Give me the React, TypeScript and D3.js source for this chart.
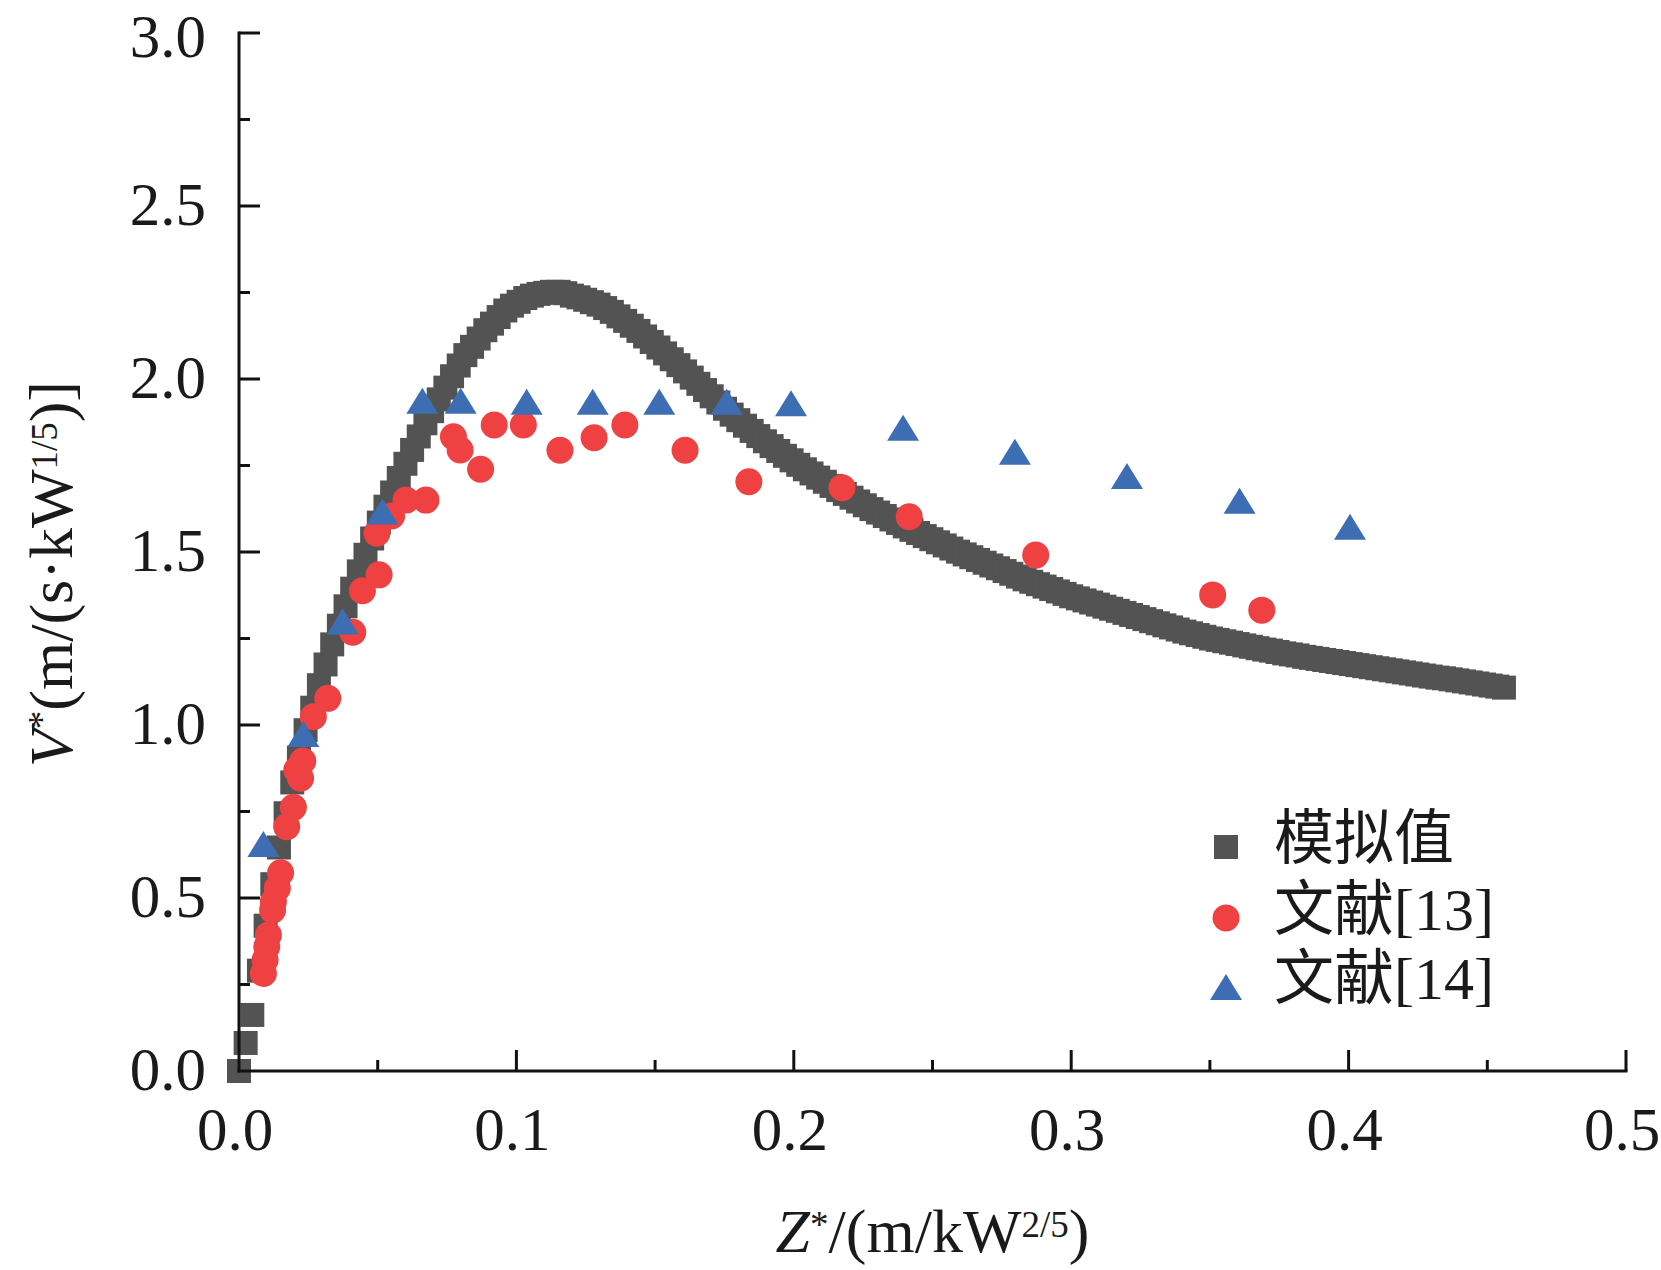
import React, { useRef, useEffect } from 'react';
import * as d3 from 'd3';

// 模拟值 (simulation)
const simZ = [
  0, 0.0024, 0.0048, 0.0072, 0.0096, 0.012, 0.0144, 0.0168, 0.0192, 0.0216,
  0.024, 0.0264, 0.0288, 0.0312, 0.0336, 0.036, 0.0384, 0.0408, 0.0432, 0.0456,
  0.048, 0.0504, 0.0528, 0.0552, 0.0576, 0.06, 0.0624, 0.0648, 0.0672, 0.0696,
  0.072, 0.0744, 0.0768, 0.0792, 0.0816, 0.084, 0.0864, 0.0888, 0.0912, 0.0936,
  0.096, 0.0984, 0.1008, 0.1032, 0.1056, 0.108, 0.1104, 0.1128, 0.1152, 0.1176,
  0.12, 0.1224, 0.1248, 0.1272, 0.1296, 0.132, 0.1344, 0.1368, 0.1392, 0.1416,
  0.144, 0.1464, 0.1488, 0.1512, 0.1536, 0.156, 0.1584, 0.1608, 0.1632, 0.1656,
  0.168, 0.1704, 0.1728, 0.1752, 0.1776, 0.18, 0.1824, 0.1848, 0.1872, 0.1896,
  0.192, 0.1944, 0.1968, 0.1992, 0.2016, 0.204, 0.2064, 0.2088, 0.2112, 0.2136,
  0.216, 0.2184, 0.2208, 0.2232, 0.2256, 0.228, 0.2304, 0.2328, 0.2352, 0.2376,
  0.24, 0.2424, 0.2448, 0.2472, 0.2496, 0.252, 0.2544, 0.2568, 0.2592, 0.2616,
  0.264, 0.2664, 0.2688, 0.2712, 0.2736, 0.276, 0.2784, 0.2808, 0.2832, 0.2856,
  0.288, 0.2904, 0.2928, 0.2952, 0.2976, 0.3, 0.3024, 0.3048, 0.3072, 0.3096,
  0.312, 0.3144, 0.3168, 0.3192, 0.3216, 0.324, 0.3264, 0.3288, 0.3312, 0.3336,
  0.336, 0.3384, 0.3408, 0.3432, 0.3456, 0.348, 0.3504, 0.3528, 0.3552, 0.3576,
  0.36, 0.3624, 0.3648, 0.3672, 0.3696, 0.372, 0.3744, 0.3768, 0.3792, 0.3816,
  0.384, 0.3864, 0.3888, 0.3912, 0.3936, 0.396, 0.3984, 0.4008, 0.4032, 0.4056,
  0.408, 0.4104, 0.4128, 0.4152, 0.4176, 0.42, 0.4224, 0.4248, 0.4272, 0.4296,
  0.432, 0.4344, 0.4368, 0.4392, 0.4416, 0.444, 0.4464, 0.4488, 0.4512, 0.4536,
  0.456,
];
const simV = [
  0, 0.081, 0.162, 0.29, 0.42, 0.54, 0.646, 0.745, 0.834, 0.906,
  0.985, 1.05, 1.115, 1.175, 1.233, 1.287, 1.343, 1.394, 1.444, 1.492,
  1.539, 1.585, 1.631, 1.672, 1.714, 1.755, 1.795, 1.834, 1.872, 1.907,
  1.941, 1.975, 2.008, 2.039, 2.069, 2.093, 2.117, 2.141, 2.16, 2.179,
  2.198, 2.212, 2.223, 2.234, 2.241, 2.246, 2.249, 2.252, 2.252, 2.248,
  2.241, 2.236, 2.229, 2.222, 2.215, 2.205, 2.194, 2.181, 2.168, 2.154,
  2.139, 2.123, 2.107, 2.091, 2.074, 2.057, 2.04, 2.022, 2.004, 1.986,
  1.968, 1.95, 1.932, 1.914, 1.897, 1.881, 1.865, 1.85, 1.835, 1.82,
  1.806, 1.792, 1.778, 1.765, 1.752, 1.739, 1.727, 1.715, 1.703, 1.691,
  1.679, 1.668, 1.657, 1.646, 1.635, 1.624, 1.614, 1.604, 1.594, 1.584,
  1.574, 1.564, 1.555, 1.546, 1.537, 1.528, 1.519, 1.51, 1.501, 1.493,
  1.485, 1.477, 1.469, 1.461, 1.453, 1.445, 1.437, 1.429, 1.421, 1.414,
  1.407, 1.4, 1.393, 1.386, 1.379, 1.372, 1.366, 1.36, 1.354, 1.348,
  1.342, 1.336, 1.33, 1.324, 1.318, 1.312, 1.306, 1.3, 1.294, 1.288,
  1.282, 1.276, 1.27, 1.265, 1.26, 1.255, 1.25, 1.246, 1.242, 1.238,
  1.234, 1.23, 1.226, 1.222, 1.218, 1.215, 1.211, 1.207, 1.204, 1.201,
  1.197, 1.194, 1.191, 1.188, 1.185, 1.182, 1.179, 1.176, 1.173, 1.17,
  1.167, 1.164, 1.161, 1.158, 1.155, 1.152, 1.149, 1.146, 1.143, 1.14,
  1.137, 1.135, 1.132, 1.129, 1.126, 1.123, 1.12, 1.117, 1.114, 1.111,
  1.108,
];

// 文献[13]
const lit13Z = [
  0.0088, 0.0094, 0.01, 0.0106, 0.0121, 0.0124, 0.0138, 0.015, 0.0172, 0.0196,
  0.0208, 0.0222, 0.023, 0.0268, 0.032, 0.041, 0.0445, 0.0505, 0.0497, 0.055,
  0.0602, 0.0674, 0.0773, 0.0797, 0.0871, 0.092, 0.1025, 0.1157, 0.128, 0.1391,
  0.1608, 0.1838, 0.2174, 0.2416, 0.2872, 0.351, 0.3687,
];
const lit13V = [
  0.282, 0.321, 0.359, 0.393, 0.465, 0.489, 0.528, 0.573, 0.706, 0.762,
  0.87, 0.846, 0.896, 1.024, 1.077, 1.268, 1.388, 1.434, 1.554, 1.604,
  1.65, 1.65, 1.833, 1.795, 1.739, 1.867, 1.867, 1.794, 1.83, 1.867,
  1.794, 1.703, 1.686, 1.602, 1.491, 1.376, 1.332,
];

// 文献[14]
const lit14Z = [
  0.0088, 0.0232, 0.0374, 0.0517, 0.0661, 0.0799, 0.1037, 0.1275, 0.1515, 0.1758,
  0.199, 0.2394, 0.2797, 0.3201, 0.3607, 0.4005,
];
const lit14V = [
  0.656, 0.974, 1.299, 1.617, 1.937, 1.937, 1.934, 1.934, 1.934, 1.934,
  1.93, 1.859, 1.79, 1.72, 1.648, 1.573,
];

const xMajor = [0, 0.1, 0.2, 0.3, 0.4, 0.5];
const xMinor = [0.05, 0.15, 0.25, 0.35, 0.45];
const yMajor = [0, 0.5, 1.0, 1.5, 2.0, 2.5, 3.0];
const yMinor = [0.25, 0.75, 1.25, 1.75, 2.25, 2.75];
const legendLabels = ['模拟值', '文献[13]', '文献[14]'];

const GREY = '#535353';
const RED = '#EF4142';
const BLUE = '#3D6EB4';
const FONT = "'Liberation Serif', 'Times New Roman', 'Noto Sans CJK SC', serif";

export default function App() {
  const svgRef = useRef<SVGSVGElement | null>(null);

  useEffect(() => {
    if (!svgRef.current) return;
    const width = 1661;
    const height = 1270;
    const left = 239, right = 1626, top = 33, bottom = 1071;

    const x = d3.scaleLinear().domain([0, 0.5]).range([left, right]);
    const y = d3.scaleLinear().domain([0, 3]).range([bottom, top]);

    const svg = d3.select(svgRef.current)
      .attr('width', width)
      .attr('height', height)
      .style('position', 'absolute')
      .style('left', '0px')
      .style('top', '0px')
      .style('background', '#ffffff');

    const g = svg.append('g');

    // simulation squares
    const sq = 24;
    g.selectAll('rect.sim')
      .data(d3.zip(simZ, simV))
      .join('rect')
      .attr('class', 'sim')
      .attr('x', d => x(d[0]) - sq / 2)
      .attr('y', d => y(d[1]) - sq / 2)
      .attr('width', sq)
      .attr('height', sq)
      .attr('fill', GREY);

    // 文献[13] circles
    g.selectAll('circle.l13')
      .data(d3.zip(lit13Z, lit13V))
      .join('circle')
      .attr('class', 'l13')
      .attr('cx', d => x(d[0]))
      .attr('cy', d => y(d[1]))
      .attr('r', 13.5)
      .attr('fill', RED);

    // 文献[14] triangles
    const tri = (cx: number, cy: number) =>
      `M${cx},${cy - 13}L${cx + 16},${cy + 13}L${cx - 16},${cy + 13}Z`;
    g.selectAll('path.l14')
      .data(d3.zip(lit14Z, lit14V))
      .join('path')
      .attr('class', 'l14')
      .attr('d', d => tri(x(d[0]), y(d[1])))
      .attr('fill', BLUE);

    // axes lines
    const axis = svg.append('g').attr('stroke', '#111').attr('stroke-width', 3);
    axis.append('line').attr('x1', left).attr('x2', left).attr('y1', top - 1.5).attr('y2', bottom + 1.5);
    axis.append('line').attr('x1', left - 1.5).attr('x2', right + 1.5).attr('y1', bottom).attr('y2', bottom);

    // y ticks (inward)
    axis.selectAll('line.ymaj').data(yMajor.filter(v => v > 0)).join('line')
      .attr('x1', left).attr('x2', left + 21).attr('y1', d => y(d)).attr('y2', d => y(d));
    axis.selectAll('line.ymin').data(yMinor).join('line')
      .attr('x1', left).attr('x2', left + 11).attr('y1', d => y(d)).attr('y2', d => y(d));
    // x ticks (inward)
    axis.selectAll('line.xmaj').data(xMajor.filter(v => v > 0)).join('line')
      .attr('x1', d => x(d)).attr('x2', d => x(d)).attr('y1', bottom).attr('y2', bottom - 21);
    axis.selectAll('line.xmin').data(xMinor).join('line')
      .attr('x1', d => x(d)).attr('x2', d => x(d)).attr('y1', bottom).attr('y2', bottom - 11);

    // tick labels
    svg.selectAll('text.yl').data(yMajor).join('text')
      .attr('x', 206)
      .attr('y', d => Math.max(y(d) + 19, 57))
      .attr('text-anchor', 'end')
      .attr('font-family', FONT)
      .attr('font-size', 61)
      .attr('fill', '#1a1a1a')
      .text(d => d.toFixed(1));
    svg.selectAll('text.xl').data(xMajor).join('text')
      .attr('x', d => x(d) - 4)
      .attr('y', bottom + 79)
      .attr('text-anchor', 'middle')
      .attr('font-family', FONT)
      .attr('font-size', 61)
      .attr('fill', '#1a1a1a')
      .text(d => d.toFixed(1));

    // x title
    const xt = svg.append('text')
      .attr('x', (left + right) / 2)
      .attr('y', 1252)
      .attr('text-anchor', 'middle')
      .attr('font-family', FONT)
      .attr('font-size', 62)
      .attr('fill', '#1a1a1a');
    xt.append('tspan').attr('font-style', 'italic').text('Z');
    xt.append('tspan').attr('font-size', 37).attr('dy', -15).text('*');
    xt.append('tspan').attr('dy', 15).text('/(m/kW');
    xt.append('tspan').attr('font-size', 37).attr('dy', -15).text('2/5');
    xt.append('tspan').attr('dy', 15).text(')');

    // y title
    const yt = svg.append('text')
      .attr('transform', 'translate(72,574) rotate(-90)')
      .attr('text-anchor', 'middle')
      .attr('font-family', FONT)
      .attr('font-size', 62)
      .attr('fill', '#1a1a1a');
    yt.append('tspan').attr('font-style', 'italic').text('V');
    yt.append('tspan').attr('font-size', 37).attr('dy', -18).text('*');
    yt.append('tspan').attr('dy', 18).text('(m/(s·kW');
    yt.append('tspan').attr('font-size', 37).attr('dy', -15).text('1/5');
    yt.append('tspan').attr('dy', 15).text(')]');

    // legend
    const legY = [847, 918, 987];
    const leg = svg.append('g');
    leg.append('rect').attr('x', 1226 - sq / 2).attr('y', legY[0] - sq / 2)
      .attr('width', sq).attr('height', sq).attr('fill', GREY);
    leg.append('circle').attr('cx', 1226).attr('cy', legY[1]).attr('r', 13.5).attr('fill', RED);
    leg.append('path').attr('d', tri(1226, legY[2])).attr('fill', BLUE);
    leg.selectAll('text').data(legendLabels).join('text')
      .attr('x', 1274)
      .attr('y', (d, i) => legY[i] + 12)
      .attr('font-family', FONT)
      .attr('font-size', 60)
      .attr('fill', '#1a1a1a')
      .text(d => d);

    return () => {
      d3.select(svgRef.current).selectAll('*').remove();
    };
  }, []);

  return <svg ref={svgRef}></svg>;
}
